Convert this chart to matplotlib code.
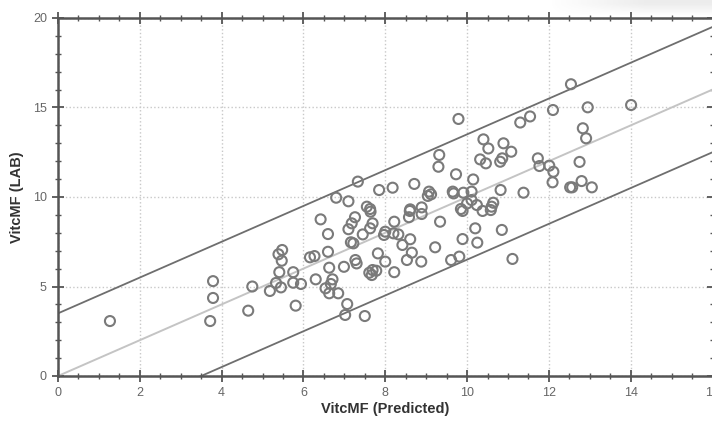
import matplotlib
matplotlib.use("Agg")
import matplotlib.pyplot as plt
from matplotlib.ticker import MultipleLocator
import numpy as np

plt.rcParams['font.family'] = ['Liberation Sans', 'DejaVu Sans']

# Predicted vs. laboratory VitcMF values
predicted = [
    1.27, 3.79, 3.79, 3.72,
    4.65, 4.75, 5.18, 5.33, 5.45, 5.41, 5.47, 5.39, 5.48, 5.75, 5.75, 5.94, 5.81,
    6.16, 6.27, 6.30, 6.42, 6.60, 6.60, 6.63, 6.71, 6.67, 6.54, 6.63, 6.85, 6.99,
    7.07, 7.02, 7.50, 7.10, 7.16, 7.22, 7.18, 7.26, 7.27, 7.30, 7.45, 7.63, 7.69,
    7.64, 7.61, 7.69, 7.78, 7.67, 7.82, 8.00, 7.97, 8.00, 8.20, 8.32, 8.22, 8.42,
    8.22, 8.61, 8.65, 8.53, 8.88, 8.58, 8.60, 8.89, 9.34, 9.22, 9.61, 9.81, 9.89,
    9.89,
    9.79, 9.32, 9.30, 9.73, 7.33, 7.85, 8.18, 8.71, 9.07, 9.12, 9.04, 9.65, 9.67,
    9.91, 6.80, 7.10, 7.55, 7.63, 8.61, 8.89, 9.85, 10.00,
    12.54, 12.10, 12.95, 14.01, 11.30, 11.54, 12.83, 12.91, 10.40, 10.52, 10.89,
    11.08, 10.32, 10.46, 10.81, 10.86, 10.15, 11.73, 11.77, 12.01, 12.11, 12.09,
    12.75, 12.80, 13.05, 12.52, 12.57, 10.82, 11.38, 10.11, 10.11, 10.24, 10.64,
    10.60,
    10.20, 10.25, 10.85, 11.11, 10.38, 10.58,
]
lab = [
    3.07, 5.30, 4.36, 3.07,
    3.65, 5.00, 4.75, 5.20, 4.95, 5.80, 6.44, 6.80, 7.04, 5.80, 5.21, 5.14, 3.93,
    6.63, 6.70, 5.40, 8.75, 7.93, 6.94, 6.05, 5.40, 5.14, 4.90, 4.62, 4.62, 6.10,
    4.02, 3.41, 3.35, 8.20, 7.47, 7.41, 8.53, 8.87, 6.48, 6.29, 7.91, 8.25, 8.53,
    9.18, 5.77, 5.92, 5.88, 5.64, 6.85, 6.39, 7.88, 8.06, 7.97, 7.91, 8.62, 7.32,
    5.80, 7.64, 6.89, 6.48, 6.39, 8.87, 9.22, 9.05, 8.62, 7.19, 6.48, 6.67, 7.65,
    9.22,
    14.36, 12.35, 11.69, 11.27, 10.86, 10.39, 10.52, 10.73, 10.30, 10.15, 10.06,
    10.30, 10.20, 10.24, 9.96, 9.76, 9.46, 9.33, 9.31, 9.42, 9.33, 9.64,
    16.30, 14.86, 15.01, 15.14, 14.16, 14.50, 13.84, 13.28, 13.22, 12.71, 13.00,
    12.53, 12.10, 11.88, 11.97, 12.16, 10.98, 12.16, 11.73, 11.75, 11.41, 10.82,
    11.96, 10.89, 10.54, 10.54, 10.54, 10.39, 10.24, 10.30, 9.83, 9.55, 9.68,
    9.46,
    8.25, 7.45, 8.16, 6.54, 9.22, 9.27,
]

# identity line and prediction band offsets
band_offset = 3.5
x_range = [0, 16]
y_range = [0, 20]
x_ticks = [0, 2, 4, 6, 8, 10, 12, 14, 16]
y_ticks = [0, 5, 10, 15, 20]

W, H = 712, 421
fig = plt.figure(figsize=(W / 100, H / 100), dpi=100)

# soft grey shading along the top-right margin
haze_ax = fig.add_axes([520 / W, 1 - 16 / H, 192 / W, 16 / H], zorder=-1)
gx = np.linspace(0, 1, 200)
gy = np.linspace(0, 1, 20)
GX, GY = np.meshgrid(gx, gy)
haze = np.clip((GX - 0.15) / 0.5, 0, 1) * np.clip(GY * 1.3, 0, 1) * 0.13
rgba = np.zeros((20, 200, 4))
rgba[..., :3] = 0.45
rgba[..., 3] = haze
haze_ax.imshow(rgba, aspect='auto', origin='lower', interpolation='bicubic')
haze_ax.axis('off')

ax = fig.add_axes([58 / W, 45 / H, 654.5 / W, 358 / H])

line_x = np.array(x_range, dtype=float)
ax.plot(line_x, line_x, color='#c4c4c4', lw=1.4, zorder=2)
ax.plot(line_x, line_x + band_offset, color='#6e6e6e', lw=1.3, zorder=2)
ax.plot(line_x, line_x - band_offset, color='#6e6e6e', lw=1.3, zorder=2)

ax.scatter(predicted, lab, s=52, facecolors='none', edgecolors='#7a7a7a',
           linewidths=1.5, zorder=3, clip_on=False)

ax.set_xlim(*x_range)
ax.set_ylim(*y_range)
ax.set_xticks(x_ticks)
ax.set_yticks(y_ticks)
ax.xaxis.set_minor_locator(MultipleLocator(0.5))
ax.yaxis.set_minor_locator(MultipleLocator(1))

ax.grid(True, which='major', color='#c8c8c8', linestyle=':', linewidth=1.0, zorder=0)
ax.set_axisbelow(True)

for sp in ax.spines.values():
    sp.set_color('#555555')
    sp.set_linewidth(1.8)

ax.tick_params(which='both', direction='inout', color='#555555',
               top=True, right=True, labelsize=9, labelcolor='#666666')
ax.tick_params(which='major', length=8, width=1.3, pad=4)
ax.tick_params(which='minor', length=5, width=1.0)

# axis titles placed in figure pixels
fig.text(385 / W, 1 - 409 / H, 'VitcMF (Predicted)', fontsize=10.5,
         fontweight='bold', color='#333333', ha='center', va='center')
fig.text(17 / W, 1 - 197 / H, 'VitcMF (LAB)', fontsize=10.5,
         fontweight='bold', color='#333333', ha='center', va='center',
         rotation=90)

fig.savefig('out.png', dpi=100)
